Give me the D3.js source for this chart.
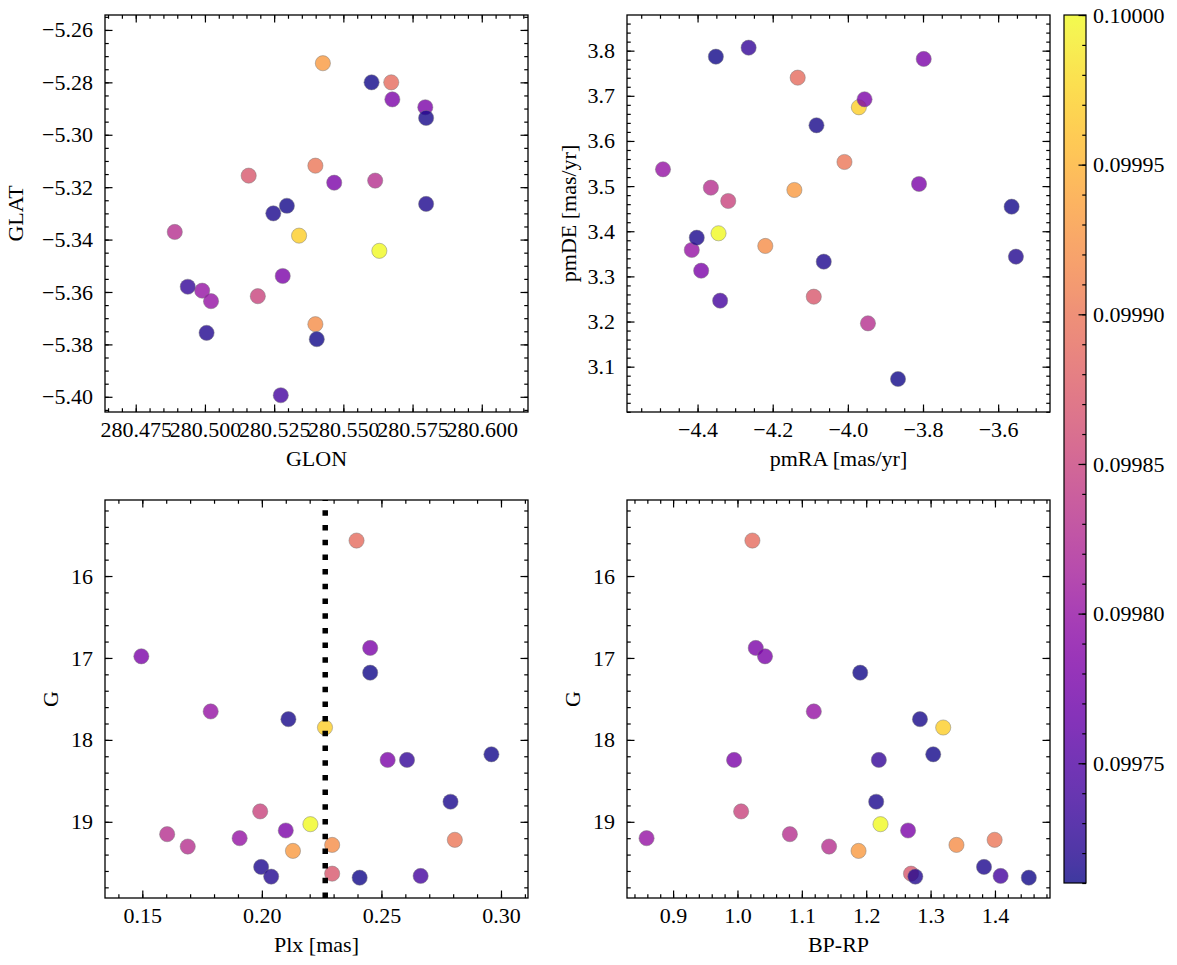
<!DOCTYPE html>
<html><head><meta charset="utf-8">
<script src="https://cdn.jsdelivr.net/npm/d3@7"></script>
<style>
body{margin:0;background:#fff;}
</style></head><body>
<svg id="c" width="1177" height="965"></svg>
<script>
// ---- data (one entry per star) ----
const glon = [280.5673,280.5158,280.5340,280.5796,280.5677,280.5630,280.5426,280.5399,280.5399,280.5615,280.4891,280.5191,280.5467,280.5281,280.4990,280.5022,280.5602,280.5799,280.5296,280.5247,280.5799,280.5006,280.5404,280.4938,280.5274];
const glat = [-5.2800,-5.3156,-5.3385,-5.2895,-5.2865,-5.3443,-5.2727,-5.3723,-5.3118,-5.3175,-5.3371,-5.3616,-5.3183,-5.3539,-5.3595,-5.3635,-5.2800,-5.2936,-5.3271,-5.3300,-5.3264,-5.3756,-5.3780,-5.3580,-5.3994];
const pmra = [-4.1335,-4.0907,-3.9707,-3.9556,-3.7981,-4.3442,-4.1423,-4.2197,-4.0090,-4.3646,-3.9465,-4.3184,-3.8106,-4.3904,-4.4920,-4.4154,-4.3513,-4.0835,-3.5641,-4.4021,-4.0641,-3.5527,-3.8665,-4.2641,-4.3399];
const pmde = [3.7402,3.2550,3.6746,3.6923,3.7816,3.3955,3.4914,3.3674,3.5534,3.4965,3.1960,3.4670,3.5047,3.3126,3.5372,3.3585,3.7867,3.6347,3.4544,3.3857,3.3326,3.3437,3.0727,3.8066,3.2462];
const plx  = [0.2396,0.2294,0.2264,0.2453,0.1496,0.2203,0.2130,0.2294,0.2807,0.1604,0.1690,0.1993,0.2526,0.2100,0.1786,0.1907,0.2453,0.2111,0.2960,0.2789,0.1997,0.2039,0.2409,0.2607,0.2664];
const gmag = [15.567,19.633,17.849,16.878,16.980,19.029,19.355,19.282,19.220,19.151,19.302,18.873,18.245,19.106,17.653,19.200,17.180,17.747,18.176,18.755,19.551,19.669,19.682,18.245,19.661];
const bprp = [1.0232,1.2696,1.3196,1.0284,1.0428,1.2222,1.1881,1.3402,1.3995,1.0814,1.1423,1.0057,0.9948,1.2650,1.1186,0.8588,1.1907,1.2835,1.3041,1.2155,1.3830,1.2763,1.4526,1.2196,1.4088];
const cval = [0.09989,0.09987,0.09997,0.09978,0.09978,0.10000,0.09993,0.09992,0.09990,0.09983,0.09983,0.09985,0.09978,0.09978,0.09980,0.09980,0.099712,0.099714,0.099713,0.099715,0.099716,0.099718,0.099712,0.09973,0.09974];
const plxCut = 0.2265;

// tick labels
const glonTicks = [280.475,280.500,280.525,280.550,280.575,280.600];
const glatTicks = [-5.40,-5.38,-5.36,-5.34,-5.32,-5.30,-5.28,-5.26];
const pmraTicks = [-4.4,-4.2,-4.0,-3.8,-3.6];
const pmdeTicks = [3.1,3.2,3.3,3.4,3.5,3.6,3.7,3.8];
const plxTicks  = [0.15,0.20,0.25,0.30];
const gTicks    = [16,17,18,19];
const bprpTicks = [0.9,1.0,1.1,1.2,1.3,1.4];
const cbTicks   = [0.09975,0.09980,0.09985,0.09990,0.09995,0.10000];
const cDomain   = [0.09971,0.10000];

const FONT = "'Liberation Serif', 'Times New Roman', serif";
const FS = 22;
const svg = d3.select("#c");
const color = d3.scaleSequential(d3.interpolatePlasma).domain(cDomain);
const MAJ = 7.5, MIN = 3.75;

function minorTicks(dom, step){
  const lo = Math.min(dom[0],dom[1]), hi = Math.max(dom[0],dom[1]);
  const a = Math.ceil(lo/step - 1e-6), b = Math.floor(hi/step + 1e-6);
  return d3.range(a, b+1).map(k => +(k*step).toFixed(8));
}
const styleText = sel => sel.style("font-family", FONT).style("font-size", FS+"px").attr("fill","#000");

const panels = [
  {xv:glon, yv:glat, box:[105,528,15,412], xd:[280.4639,280.6167], yd:[-5.4058,-5.2543],
   xt:glonTicks, xm:0.005, yt:glatTicks, ym:0.005, xf:".3f", yf:".2f", xl:"GLON", yl:"GLAT", ylx:15},
  {xv:pmra, yv:pmde, box:[627,1050,15,412], xd:[-4.5878,-3.462], yd:[2.9996,3.879],
   xt:pmraTicks, xm:0.05, yt:pmdeTicks, ym:0.02, xf:".1f", yf:".1f", xl:"pmRA [mas/yr]", yl:"pmDE [mas/yr]", ylx:568},
  {xv:plx, yv:gmag, box:[105,528,500,898], xd:[0.1344,0.3113], yd:[19.93,15.072],
   xt:plxTicks, xm:0.01, yt:gTicks, ym:0.2, xf:".2f", yf:"d", xl:"Plx [mas]", yl:"G", ylx:50, vline:plxCut},
  {xv:bprp, yv:gmag, box:[627,1050,500,898], xd:[0.8284,1.4855], yd:[19.93,15.072],
   xt:bprpTicks, xm:0.02, yt:gTicks, ym:0.2, xf:".1f", yf:"d", xl:"BP-RP", yl:"G", ylx:572}
];

const axStyle = sel => {
  sel.select(".domain").remove();
  sel.selectAll("line").attr("stroke","#000").attr("stroke-width",1.2);
  sel.selectAll("text").call(styleText);
};

panels.forEach((p,i) => {
  const [x0,x1,y0,y1] = p.box;
  const x = d3.scaleLinear().domain(p.xd).range([x0,x1]);
  const y = d3.scaleLinear().domain(p.yd).range([y1,y0]);
  const g = svg.append("g");
  const clipId = "clip"+i;
  svg.append("clipPath").attr("id",clipId).append("rect").attr("x",x0).attr("y",y0).attr("width",x1-x0).attr("height",y1-y0);

  const pts = g.append("g").attr("clip-path",`url(#${clipId})`);
  const idx = d3.range(p.xv.length);
  pts.selectAll("circle").data(idx).join("circle")
    .attr("cx", d => x(p.xv[d])).attr("cy", d => y(p.yv[d])).attr("r", 7.6)
    .attr("fill", d => color(cval[d])).attr("fill-opacity", 0.8)
    .attr("stroke", "#7a7a7a").attr("stroke-opacity",0.8).attr("stroke-width", 0.6);

  if (p.vline !== undefined) {
    pts.append("line").attr("x1", x(p.vline)).attr("x2", x(p.vline))
      .attr("y1", y1).attr("y2", y0).attr("stroke","#000").attr("stroke-width",5.5)
      .attr("stroke-dasharray","5.5,9.2");
  }

  // bottom
  g.append("g").attr("transform",`translate(0,${y1})`)
    .call(d3.axisBottom(x).tickValues(minorTicks(p.xd,p.xm)).tickSize(-MIN).tickFormat("")).call(axStyle);
  g.append("g").attr("transform",`translate(0,${y1})`)
    .call(d3.axisBottom(x).tickValues(p.xt).tickSize(-MAJ).tickPadding(9).tickFormat(d3.format(p.xf))).call(axStyle);
  // top
  g.append("g").attr("transform",`translate(0,${y0})`)
    .call(d3.axisTop(x).tickValues(minorTicks(p.xd,p.xm)).tickSize(-MIN).tickFormat("")).call(axStyle);
  g.append("g").attr("transform",`translate(0,${y0})`)
    .call(d3.axisTop(x).tickValues(p.xt).tickSize(-MAJ).tickFormat("")).call(axStyle);
  // left
  g.append("g").attr("transform",`translate(${x0},0)`)
    .call(d3.axisLeft(y).tickValues(minorTicks(p.yd,p.ym)).tickSize(-MIN).tickFormat("")).call(axStyle);
  g.append("g").attr("transform",`translate(${x0},0)`)
    .call(d3.axisLeft(y).tickValues(p.yt).tickSize(-MAJ).tickPadding(12).tickFormat(d3.format(p.yf))).call(axStyle);
  // right
  g.append("g").attr("transform",`translate(${x1},0)`)
    .call(d3.axisRight(y).tickValues(minorTicks(p.yd,p.ym)).tickSize(-MIN).tickFormat("")).call(axStyle);
  g.append("g").attr("transform",`translate(${x1},0)`)
    .call(d3.axisRight(y).tickValues(p.yt).tickSize(-MAJ).tickFormat("")).call(axStyle);

  g.append("rect").attr("x",x0).attr("y",y0).attr("width",x1-x0).attr("height",y1-y0)
    .attr("fill","none").attr("stroke","#000").attr("stroke-width",1.3);

  g.append("text").attr("x",(x0+x1)/2).attr("y",y1+46).attr("text-anchor","middle")
    .attr("dominant-baseline","central").call(styleText).text(p.xl);
  g.append("text").attr("transform",`translate(${p.ylx},${(y0+y1)/2}) rotate(-90)`)
    .attr("text-anchor","middle").attr("dominant-baseline","central").call(styleText).text(p.yl);
});

// ---- colorbar ----
const cbX0 = 1064, cbX1 = 1086, cbY0 = 15, cbY1 = 883;
const defs = svg.append("defs");
const grad = defs.append("linearGradient").attr("id","cbgrad").attr("x1",0).attr("y1",1).attr("x2",0).attr("y2",0);
d3.range(0,1.0001,0.02).forEach(t => grad.append("stop").attr("offset",t).attr("stop-color",d3.interpolatePlasma(t)).attr("stop-opacity",0.8));
svg.append("rect").attr("x",cbX0).attr("y",cbY0).attr("width",cbX1-cbX0).attr("height",cbY1-cbY0).attr("fill","url(#cbgrad)");
const cy = d3.scaleLinear().domain(cDomain).range([cbY1,cbY0]);
svg.append("g").attr("transform",`translate(${cbX1},0)`)
  .call(d3.axisRight(cy).tickValues(minorTicks(cDomain,0.00001)).tickSize(-MIN).tickFormat("")).call(axStyle);
svg.append("g").attr("transform",`translate(${cbX1},0)`)
  .call(d3.axisRight(cy).tickValues(cbTicks).tickSize(-MAJ).tickPadding(7).tickFormat(d3.format(".5f"))).call(axStyle);
svg.append("rect").attr("x",cbX0).attr("y",cbY0).attr("width",cbX1-cbX0).attr("height",cbY1-cbY0)
  .attr("fill","none").attr("stroke","#000").attr("stroke-width",1.2);
</script>
</body></html>
